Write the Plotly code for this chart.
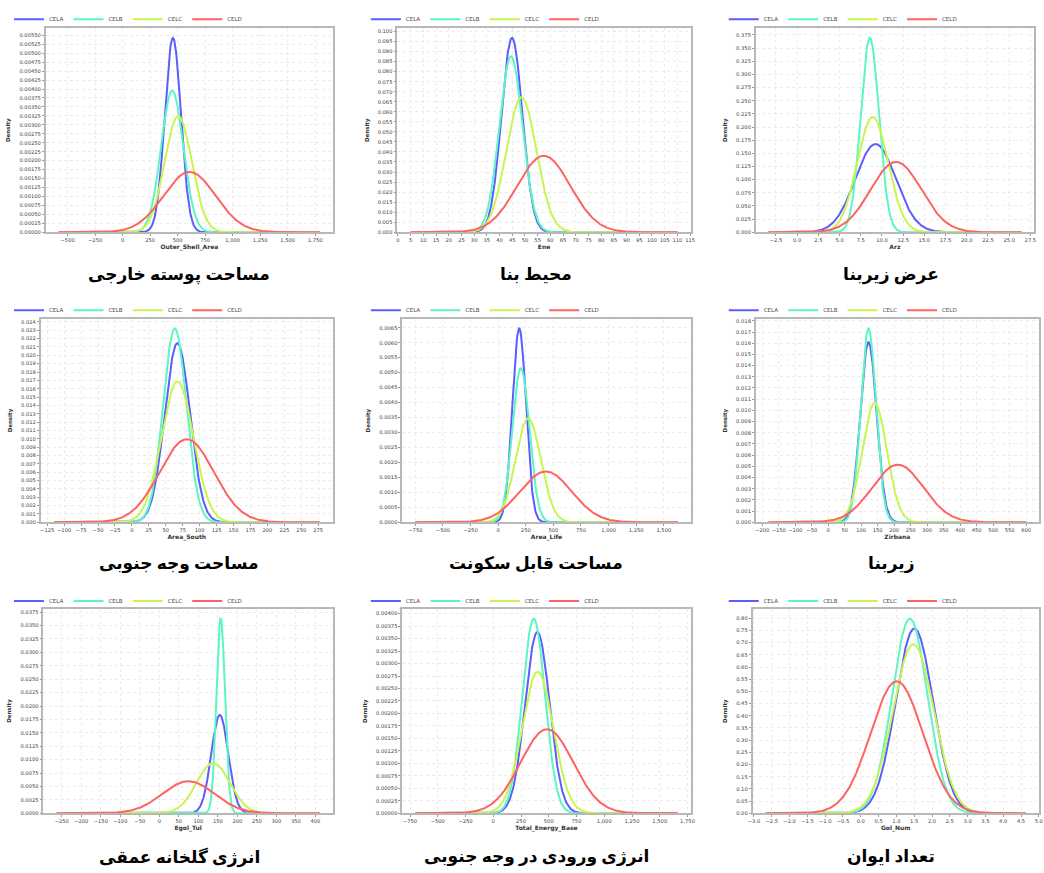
import numpy as np
import plotly.graph_objects as go

# ---------------- data ----------------
clusters = ["CELA", "CELB", "CELC", "CELD"]
variables = ["Outer_Shell_Area", "Ene", "Arz", "Area_South", "Area_Life",
             "Zirbana", "Egol_Tul", "Total_Energy_Base", "Gol_Num"]
titles_fa = ["مساحت پوسته خارجی", "محیط بنا", "عرض زیربنا",
             "مساحت وجه جنوبی", "مساحت قابل سکونت", "زیربنا",
             "انرژی گلخانه عمقی", "انرژی ورودی در وجه جنوبی", "تعداد ایوان"]

# cluster means / standard deviations per variable (same order as `variables`)
mean_cela = [457, 44.9, 9.24, 67.2, 190.5, 122, 154.9, 397, 1.505]
std_cela = [73.5, 4.12, 2.379, 18.59, 61.6, 24.78, 21.76, 109.8, 0.5264]
mean_celb = [451, 44.5, 8.57, 63.3, 205.5, 122, 157.4, 364.4, 1.378]
std_celb = [100.9, 4.55, 1.080, 17.19, 77.5, 23.03, 10.98, 102.3, 0.4996]
mean_celc = [505, 48.6, 8.90, 67.2, 271.6, 140.4, 138, 400, 1.477]
std_celc = [123, 5.94, 1.820, 23.66, 114.9, 37.39, 42.7, 140.7, 0.5751]
mean_celd = [608, 57.4, 11.65, 80.9, 430.9, 211, 74.6, 483.6, 1.009]
std_celd = [236.8, 10.47, 2.982, 40.1, 234.7, 77.45, 66.6, 236.9, 0.7373]

# extent of the plotted density curves per variable
x_lo = [-581, 5, -3.39, -115, -750, -180.7, -263.5, -702, -2.676]
x_hi = [1795, 110, 26.44, 277, 1625, 600, 411, 1661, 4.64]

# tick spacing / formats
x_dtick = [250, 5, 2.5, 25, 250, 50, 50, 250, 0.5]
x_fmt = [",d", "d", ".1f", "d", ",d", "d", "d", ",d", ".1f"]
y_dtick = [0.00025, 0.005, 0.025, 0.001, 0.0005, 0.001, 0.0025, 0.00025, 0.05]
y_fmt = [".5f", ".3f", ".3f", ".3f", ".4f", ".3f", ".4f", ".5f", ".2f"]

means = [mean_cela, mean_celb, mean_celc, mean_celd]
stds = [std_cela, std_celb, std_celc, std_celd]
colors = ["#5c5cff", "#5cf5c4", "#c8f550", "#ff6262"]

# ---------------- layout geometry (pixels) ----------------
W, H = 1044, 873
left_px = [41, 395.7, 757.3, 36, 400.7, 757.3, 38.7, 400.7, 754]
right_px = [331, 691.7, 1038, 330.7, 691.7, 1043, 330.7, 691.7, 1043]
top_px = [27.3, 319.3, 610.7]
bot_px = [232.3, 523.7, 816]
legend_x_px = [4, 364, 725]
legend_y_px = [18.3, 310.7, 602.7]
title_x_px = [176, 536, 894]
title_y_px = [275, 566, 860]

fig = go.Figure()
layout = dict(width=W, height=H, margin=dict(l=0, r=0, t=0, b=0),
              paper_bgcolor="white", plot_bgcolor="white",
              font=dict(family="DejaVu Sans, Arial", color="#333"),
              showlegend=True)
annotations = []

for i, var in enumerate(variables):
    r, c = divmod(i, 3)
    ax = "" if i == 0 else str(i + 1)
    leg = "legend" if i == 0 else f"legend{i + 1}"
    xs = np.linspace(x_lo[i], x_hi[i], 500)
    peak = 0
    for k, name in enumerate(clusters):
        m, s = means[k][i], stds[k][i]
        ys = np.exp(-0.5 * ((xs - m) / s) ** 2) / (s * np.sqrt(2 * np.pi))
        peak = max(peak, ys.max())
        fig.add_trace(go.Scatter(
            x=xs, y=ys, mode="lines", name=name,
            line=dict(color=colors[k], width=2),
            xaxis="x" + ax, yaxis="y" + ax, legend=leg, showlegend=True,
            hoverinfo="skip"))
    span = x_hi[i] - x_lo[i]
    xr = [x_lo[i] - 0.05 * span, x_hi[i] + 0.05 * span]
    yr = [0, peak * 1.05]
    common = dict(showline=True, mirror=True, linecolor="#b8b8b8", linewidth=1.5,
                  showgrid=True, gridcolor="#ececec", griddash="3px,3px", gridwidth=1,
                  zeroline=False, ticks="outside", ticklen=2, tickcolor="#999",
                  tickangle=0, tickfont=dict(size=5.2, color="#444"))
    layout["xaxis" + ax] = dict(
        domain=[left_px[i] / W, right_px[i] / W], anchor="y" + ax,
        range=xr, dtick=x_dtick[i], tickformat=x_fmt[i],
        title=dict(text="<b>" + var + "</b>", font=dict(size=6, color="#333"), standoff=3),
        **common)
    layout["yaxis" + ax] = dict(
        domain=[1 - bot_px[r] / H, 1 - top_px[r] / H], anchor="x" + ax,
        range=yr, dtick=y_dtick[i], tickformat=y_fmt[i],
        title=dict(text="<b>Density</b>", font=dict(size=5.5, color="#333"), standoff=8),
        **common)
    layout[leg] = dict(orientation="h", x=legend_x_px[c] / W, y=1 - legend_y_px[r] / H,
                       xanchor="left", yanchor="middle", bgcolor="rgba(0,0,0,0)",
                       font=dict(size=5.5, color="#444"), itemwidth=30,
                       tracegroupgap=0)
    annotations.append(dict(
        text="<b>" + titles_fa[i] + "</b>", xref="paper", yref="paper",
        x=title_x_px[c] / W, y=1 - title_y_px[r] / H, xanchor="center", yanchor="middle",
        showarrow=False, font=dict(size=17, color="black",
                                   family="Times New Roman, DejaVu Sans")))

layout["annotations"] = annotations
fig.update_layout(**layout)
fig.write_html("out.html", config={"displayModeBar": False},
               post_script="document.body.style.margin='0';document.body.style.overflow='hidden';")
